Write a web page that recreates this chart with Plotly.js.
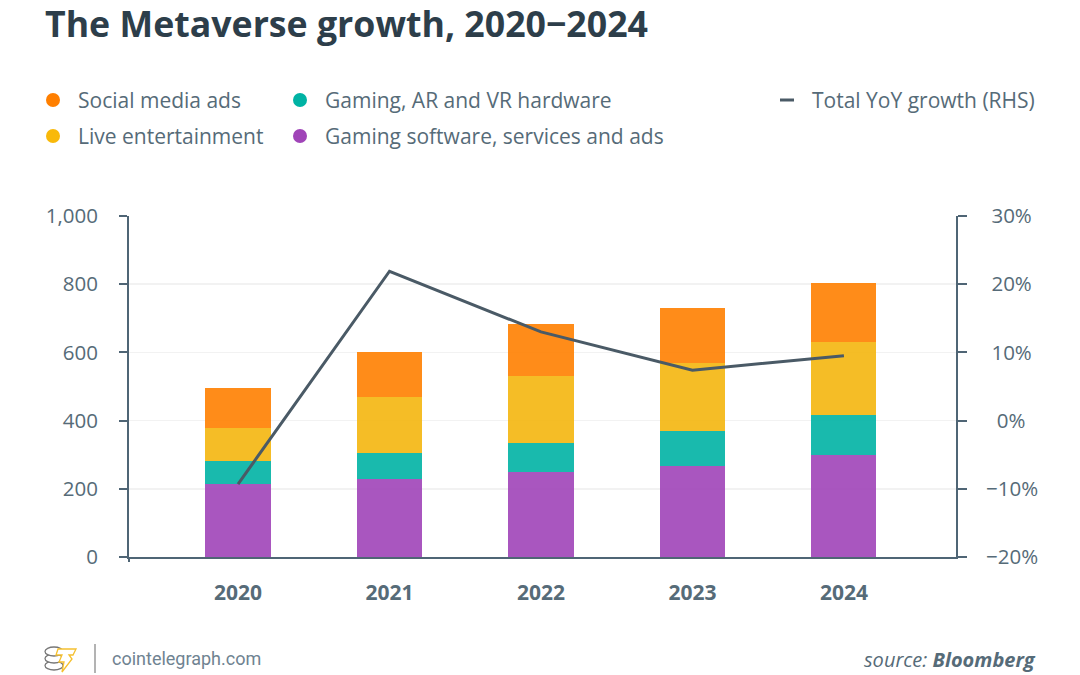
<!DOCTYPE html>
<html><head><meta charset="utf-8">
<script src="https://cdn.plot.ly/plotly-3.0.1.min.js"></script>
<style>html,body{margin:0;padding:0;background:#fff}</style></head>
<body><div id="chart" style="width:1080px;height:675px"></div>
<script>
const years = ['2020','2021','2022','2023','2024'];
const gamingSoftware = [215,230,248,267,298];
const hardware = [68,75,87,103,119];
const liveEntertainment = [94,163,197,200,213];
const socialAds = [120,134,150,161,173];
const yoyGrowth = [-9.3,21.9,13,7.4,9.5];
const leftTicks = [0,200,400,600,800,1000];
const leftLabels = ['0','200','400','600','800','1,000'];
const rightTicks = [-20,-10,0,10,20,30];
const rightLabels = ['−20%','−10%','\u00a0\u00a00%','\u00a010%','\u00a020%','\u00a030%'];
const legendRows = [
 ['Social media ads','#ff7f00',45,100],
 ['Live entertainment','#f9b90a',45,136],
 ['Gaming, AR and VR hardware','#00b3a4',292,100],
 ['Gaming software, services and ads','#a044b8',292,136]];
const F='"Open Sans", sans-serif', TXT='#566b78', AX='#4f6575';
const bar=(n,y,c)=>({type:'bar',name:n,x:years,y:y,marker:{color:c,opacity:0.9,line:{width:0}},width:0.43,showlegend:false,hoverinfo:'y'});
const traces=[
 bar('Gaming software, services and ads',gamingSoftware,'#a044b8'),
 bar('Gaming, AR and VR hardware',hardware,'#00b3a4'),
 bar('Live entertainment',liveEntertainment,'#f4b60e'),
 bar('Social media ads',socialAds,'#ff7f00'),
 {type:'scatter',mode:'lines',name:'Total YoY growth (RHS)',x:years,y:yoyGrowth,yaxis:'y2',line:{color:'#4a5a66',width:3},showlegend:false}
];
const px=x=>(x-129)/827, py=y=>(557-y)/341;
const annotations=[
 {text:'<b>The Metaverse growth, 2020−2024</b>',x:px(43),y:py(23),xanchor:'left',yanchor:'middle',font:{family:F,size:35.7,color:'#2d3e4a'}},
 {text:'Total YoY growth (RHS)',x:px(1037),y:py(100),xanchor:'right',yanchor:'middle',font:{family:F,size:21,color:TXT}},
 {text:'cointelegraph.com',x:px(110),y:py(658),xanchor:'left',yanchor:'middle',font:{family:'Roboto, sans-serif',size:18,color:'#6f8391'}},
 {text:'<i>source: <b>Bloomberg</b></i>',x:px(1038),y:py(659),xanchor:'right',yanchor:'middle',font:{family:F,size:20,color:TXT}}
];
const shapes=[];
const ps=(x0,y0,x1,y1,o)=>Object.assign({xref:'paper',yref:'paper',x0:px(x0),x1:px(x1),y0:py(y0),y1:py(y1),layer:'above'},o);
legendRows.forEach(r=>{
 annotations.push({text:r[0],x:px(r[2]+31),y:py(r[3]),xanchor:'left',yanchor:'middle',font:{family:F,size:21,color:TXT}});
 shapes.push(ps(r[2]+1,r[3]-7,r[2]+15,r[3]+7,{type:'circle',fillcolor:r[1],line:{width:0}}));
});
shapes.push(ps(780,100,794,100,{type:'line',line:{color:'#4a5a66',width:3}}));
shapes.push(ps(95,644,95,673,{type:'line',line:{color:'#9a9a9a',width:1.5}}));
shapes.push(ps(129,557,129,562,{type:'line',line:{color:AX,width:2}}));
[[661],[654],[647]].forEach(a=>shapes.push(ps(45,a[0],63,a[0]+9,{type:'circle',fillcolor:'#fff',line:{color:'#777',width:1.3}})));
const pp=(pts)=>'M'+pts.map(p=>px(p[0])+','+py(p[1])).join(' L')+' Z';
shapes.push({type:'path',xref:'paper',yref:'paper',path:pp([[58,649],[76,649],[73,655],[69,655],[72,659],[62,672],[64,662],[59,662],[62,655],[56,655]]),fillcolor:'#fff',line:{color:'#f5c02f',width:1.3},layer:'above'});
const layout={
 width:1080,height:675,paper_bgcolor:'#fff',plot_bgcolor:'#fff',barmode:'stack',
 margin:{l:129,r:124,t:216,b:118,pad:0},font:{family:F,size:20,color:TXT},showlegend:false,
 xaxis:{type:'category',range:[-0.72,4.74],showgrid:false,zeroline:false,showline:true,linecolor:AX,linewidth:2,ticks:'',
  tickfont:{family:F,size:21,color:TXT},ticklabelstandoff:16,tickvals:years,ticktext:years.map(y=>'<b>'+y+'</b>')},
 yaxis:{range:[0,1000],tickvals:leftTicks,ticktext:leftLabels,showgrid:true,gridcolor:'#f2f2f2',gridwidth:1.5,zeroline:false,showline:true,linecolor:AX,linewidth:2,ticks:'outside',ticklen:8,tickwidth:2,tickcolor:AX,ticklabelstandoff:17,tickfont:{family:F,size:20.5,color:TXT}},
 yaxis2:{overlaying:'y',side:'right',range:[-20,30],tickvals:rightTicks,ticktext:rightLabels,showgrid:false,zeroline:false,showline:true,linecolor:AX,linewidth:2,ticks:'outside',ticklen:9,tickwidth:2,tickcolor:AX,ticklabelstandoff:15,tickfont:{family:F,size:20.5,color:TXT}},
 annotations:annotations.map(a=>Object.assign({xref:'paper',yref:'paper',showarrow:false},a)),shapes:shapes
};
Plotly.newPlot('chart',traces,layout,{staticPlot:true,displayModeBar:false});
</script></body></html>
